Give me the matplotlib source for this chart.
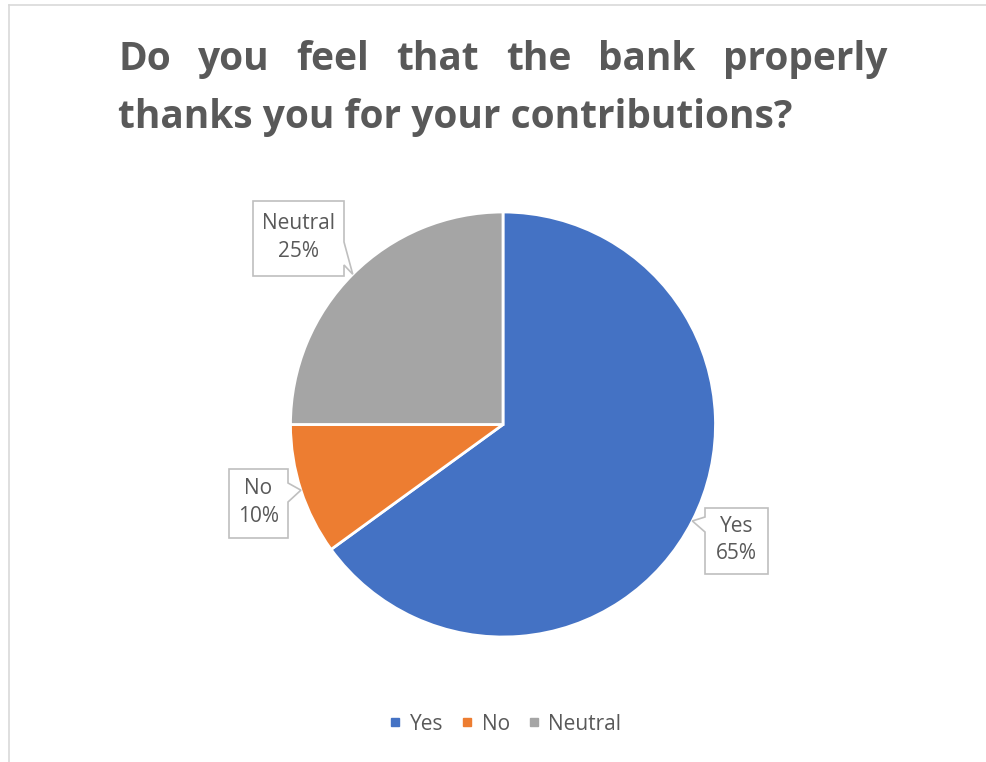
import numpy as np
import matplotlib
matplotlib.use("Agg")
import matplotlib.pyplot as plt
from matplotlib.patches import Polygon
from matplotlib.lines import Line2D

# ─── Data ─────────────────────────────────────────────────────────────────────
labels = ["Yes", "No", "Neutral"]
shares = [65, 10, 25]
colors = ["#4472C4", "#ED7D31", "#A5A5A5"]

TITLE_1 = ["Do", "you", "feel", "that", "the", "bank", "properly"]
TITLE_2 = "thanks you for your contributions?"

TEXT = "#595959"
BORDER = "#D9D9D9"
FONT = "Open Sans"

W, H = 986, 762

def Y(y):
    # image row -> data y (axes uses pixel units, origin bottom-left)
    return H - y

fig = plt.figure(figsize=(W / 100, H / 100), dpi=100)
ax = fig.add_axes([0, 0, 1, 1])

# ─── Pie ──────────────────────────────────────────────────────────────────────
cx, cy, r = 503, Y(424.5), 212.5
wedges, _ = ax.pie(shares, colors=colors, startangle=90, counterclock=False,
                   center=(cx, cy), radius=r,
                   wedgeprops=dict(edgecolor="white", linewidth=2))
ax.set_xlim(0, W)
ax.set_ylim(0, H)
ax.set_aspect("auto")
ax.axis("off")

# chart area frame (only top / left visible in the crop)
ax.plot([9, W], [Y(5), Y(5)], color=BORDER, lw=1.2)
ax.plot([9, 9], [Y(5), 0], color=BORDER, lw=1.2)

# ─── Callouts: box (x0, y0, x1, y1), side of pointer, pointer base rows ──────
boxes = {
    "Neutral": ((253, 201, 344, 276), "right", (242, 265)),
    "No":      ((229, 469, 288, 538), "right", (483, 502)),
    "Yes":     ((705, 508, 768, 574), "left", (517, 532)),
}

for w, lab, val in zip(wedges, labels, shares):
    (x0, y0, x1, y1), side, (b0, b1) = boxes[lab]
    mid = np.deg2rad((w.theta1 + w.theta2) / 2)
    tip = (cx + r * np.cos(mid), cy + r * np.sin(mid))
    if side == "right":
        pts = [(x0, Y(y0)), (x1, Y(y0)), (x1, Y(b0)), tip, (x1, Y(b1)),
               (x1, Y(y1)), (x0, Y(y1))]
    else:
        pts = [(x0, Y(y0)), (x1, Y(y0)), (x1, Y(y1)), (x0, Y(y1)),
               (x0, Y(b1)), tip, (x0, Y(b0))]
    ax.add_patch(Polygon(pts, closed=True, facecolor="white",
                         edgecolor="#BFBFBF", lw=1.2, zorder=5))
    ax.text((x0 + x1) / 2, Y((y0 + y1) / 2 - 1), f"{lab}\n{val}%",
            ha="center", va="center", multialignment="center",
            fontsize=15, color=TEXT, family=FONT, linespacing=1.4, zorder=6)

# ─── Title (first line justified) ─────────────────────────────────────────────
fig.canvas.draw()
rend = fig.canvas.get_renderer()
tsize = 28
left, right = 118, 887
words = [ax.text(0, Y(70), wd, fontsize=tsize, fontweight="bold", color=TEXT,
                 family=FONT, ha="left", va="baseline") for wd in TITLE_1]
widths = [t.get_window_extent(rend).width for t in words]
gap = (right - left - sum(widths)) / (len(words) - 1)
x = left
for t, wd in zip(words, widths):
    t.set_x(x)
    x += wd + gap
ax.text(left, Y(128), TITLE_2, fontsize=tsize, fontweight="bold", color=TEXT,
        family=FONT, ha="left", va="baseline")

# ─── Legend ───────────────────────────────────────────────────────────────────
handles = [Line2D([], [], marker="s", linestyle="none", markersize=6,
                  markerfacecolor=c, markeredgecolor=c) for c in colors]
leg = ax.legend(handles, labels, loc="center", bbox_to_anchor=(505 / W, 1 - 724 / H),
                ncol=3, frameon=False, handlelength=0.6, handletextpad=0.4,
                columnspacing=0.85, prop=dict(family=FONT, size=15))
for t in leg.get_texts():
    t.set_color(TEXT)

fig.savefig("out.png", dpi=100)
